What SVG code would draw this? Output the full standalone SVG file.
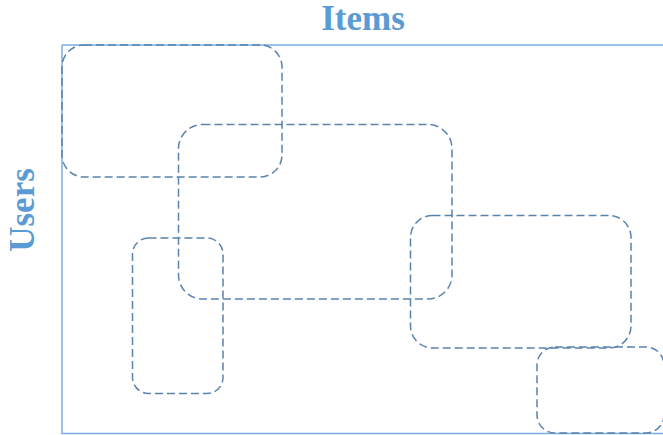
<svg xmlns="http://www.w3.org/2000/svg" width="663" height="435" viewBox="0 0 663 435">
<style>
.lbl{font-family:"Liberation Serif","DejaVu Serif",serif;font-size:35px;font-weight:bold;fill:#5b9bd5;text-anchor:middle}
.grp{fill:none;stroke:#5a83ad;stroke-width:1.5;stroke-dasharray:8,4}
</style>
<rect width="663" height="435" fill="#fff"/>
<text class="lbl" x="363" y="30">Items</text>
<text class="lbl" transform="translate(34,210) rotate(-90)">Users</text>
<g id="frame"><path d="M62,45 H670 M62,45 V433.5 H670" fill="none" stroke="#7aaee0" stroke-width="1.5"/></g>
<g id="g1"><rect class="grp" x="62" y="45" width="220" height="132" rx="22"/></g>
<g id="g2"><rect class="grp" x="178.5" y="124.5" width="273.5" height="174.5" rx="24"/></g>
<g id="g3"><rect class="grp" x="132.5" y="238" width="90.5" height="155.5" rx="16"/></g>
<g id="g4"><rect class="grp" x="410.5" y="215.5" width="220.5" height="132.5" rx="22"/></g>
<g id="g5"><rect class="grp" x="537" y="347" width="127" height="86" rx="18"/></g>
</svg>
